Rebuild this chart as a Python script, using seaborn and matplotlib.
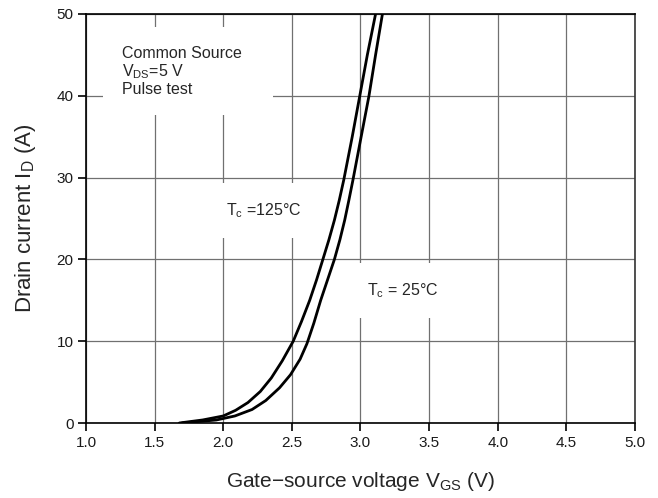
import numpy as np
import pandas as pd
import matplotlib
matplotlib.use("Agg")
import matplotlib.pyplot as plt
import seaborn as sns

# Data
vgs_125 = [1.68, 1.85, 2.00, 2.09, 2.18, 2.27, 2.35, 2.43, 2.51, 2.57, 2.63, 2.68, 2.726, 2.77, 2.81, 2.845, 2.878, 2.94, 2.995, 3.05, 3.11]
id_125 = [0.0, 0.37, 0.86, 1.55, 2.5, 3.85, 5.5, 7.6, 10.0, 12.4, 15.0, 17.5, 20.0, 22.4, 24.8, 27.2, 29.7, 35.0, 40.0, 45.0, 50.0]
vgs_25 = [1.70, 1.95, 2.085, 2.21, 2.31, 2.41, 2.49, 2.56, 2.61, 2.66, 2.71, 2.76, 2.81, 2.85, 2.885, 2.915, 2.945, 3.005, 3.062, 3.11, 3.16]
id_25 = [0.0, 0.37, 0.86, 1.65, 2.75, 4.3, 5.9, 7.8, 9.7, 12.2, 15.0, 17.5, 20.0, 22.4, 24.8, 27.2, 29.7, 35.0, 40.0, 45.0, 50.0]
x_ticks = [1.0, 1.5, 2.0, 2.5, 3.0, 3.5, 4.0, 4.5, 5.0]
y_ticks = [0, 10, 20, 30, 40, 50]

df = pd.concat([
    pd.DataFrame({"vgs": vgs_125, "id": id_125, "tc": "125"}),
    pd.DataFrame({"vgs": vgs_25, "id": id_25, "tc": "25"}),
])

sns.set_theme(style="white")
plt.rcParams["font.family"] = ["Liberation Sans", "DejaVu Sans"]
plt.rcParams["mathtext.fontset"] = "custom"
plt.rcParams["mathtext.rm"] = "Liberation Sans"
plt.rcParams["mathtext.it"] = "Liberation Sans:italic"
plt.rcParams["mathtext.bf"] = "Liberation Sans:bold"

fig, ax = plt.subplots(figsize=(6.58, 4.98), dpi=100)
fig.subplots_adjust(left=0.1307, right=0.965, top=0.972, bottom=0.1506)

sns.lineplot(data=df, x="vgs", y="id", hue="tc", palette=["black", "black"],
             legend=False, linewidth=2.0, ax=ax, sort=False, zorder=5)
for ln in ax.get_lines():
    ln.set_solid_joinstyle("round")

ax.set_xlim(1.0, 5.0)
ax.set_ylim(0, 50)
ax.set_xticks(x_ticks)
ax.set_xticklabels([f"{v:.1f}" for v in x_ticks])
ax.set_yticks(y_ticks)
ax.set_yticklabels([str(v) for v in y_ticks])
ax.grid(True, color="#707070", linewidth=0.9)
ax.set_axisbelow(True)
for side in ["left", "bottom", "top", "right"]:
    ax.spines[side].set_visible(True)
    ax.spines[side].set_color("black")
    ax.spines[side].set_linewidth(1.2)
ax.spines["right"].set_color("#333333")
ax.tick_params(axis="both", direction="out", length=6, width=1.2, color="black",
               labelsize=11, labelcolor="#1a1a1a", pad=3,
               bottom=True, left=True)

ax.set_xlabel(r"Gate$-$source voltage V$_{\mathrm{GS}}$ (V)", fontsize=15, labelpad=15)
ax.set_ylabel(r"Drain current I$_{\mathrm{D}}$ (A)", fontsize=16, labelpad=13)

box = dict(facecolor="white", edgecolor="none", boxstyle="square,pad=1.15")
ax.text(1.26, 43.0, "Common Source   \n" + r"V$_{\mathrm{DS}}$=5 V" + "\nPulse test",
        fontsize=11.5, va="center", ha="left", linespacing=1.1, bbox=box, zorder=3)
ax.text(2.02, 26.0, r"T$_{\mathrm{c}}$ =125$\degree$C", fontsize=11.5,
        va="center", ha="left", bbox=box, zorder=3)
ax.text(3.05, 16.2, r"T$_{\mathrm{c}}$ = 25$\degree$C", fontsize=11.5,
        va="center", ha="left", bbox=box, zorder=3)

fig.savefig("out.png", dpi=100)
